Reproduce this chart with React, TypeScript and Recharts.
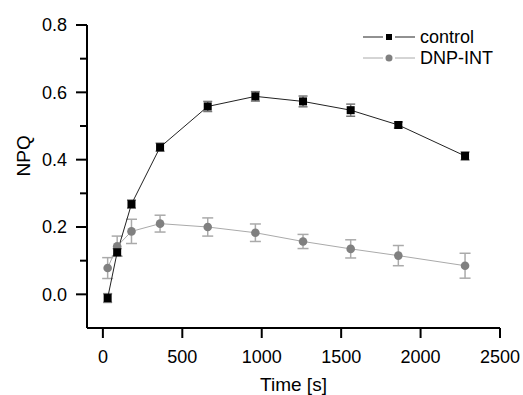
import { ErrorBar, Legend, Line, LineChart, XAxis, YAxis } from "recharts";

// NPQ time course, control vs DNP-INT, mean ± error
const times = [30, 90, 180, 360, 660, 960, 1260, 1560, 1860, 2280];
const controlNpq = [-0.011, 0.125, 0.268, 0.437, 0.558, 0.588, 0.573, 0.547, 0.503, 0.411];
const controlErr = [0.013, 0.011, 0.012, 0.012, 0.015, 0.014, 0.016, 0.018, 0.009, 0.012];
const dnpNpq = [0.078, 0.143, 0.187, 0.21, 0.2, 0.183, 0.157, 0.135, 0.115, 0.085];
const dnpErr = [0.031, 0.03, 0.036, 0.025, 0.027, 0.026, 0.021, 0.027, 0.03, 0.037];

const xTicks = [0, 500, 1000, 1500, 2000, 2500];
const yTicks = [0, 0.1, 0.2, 0.3, 0.4, 0.5, 0.6, 0.7, 0.8];

const FONT = "Arial, 'Liberation Sans', sans-serif";
const AXIS_X = 87; // y axis line position (margin.left + YAxis width)

const data = times.map((t, i) => ({
  time: t,
  control: controlNpq[i],
  controlErr: controlErr[i],
  dnp: dnpNpq[i],
  dnpErr: dnpErr[i],
}));

function YTick(props: any) {
  const { y, payload } = props;
  const v = payload.value as number;
  const major = Math.round(v * 10) % 2 === 0;
  const len = major ? 11 : 7;
  return (
    <g>
      <line x1={AXIS_X - len} x2={AXIS_X} y1={y} y2={y} stroke="#000" strokeWidth={2} />
      {major && (
        <text x={AXIS_X - 20} y={y} dy="0.36em" textAnchor="end" fontSize={18} fontFamily={FONT} fill="#000">
          {v.toFixed(1)}
        </text>
      )}
    </g>
  );
}

function LegendBox() {
  const rows = [
    { name: "control", line: "#222", kind: "square" },
    { name: "DNP-INT", line: "#aaa", kind: "circle" },
  ];
  return (
    <svg width={160} height={50}>
      {rows.map((r, i) => {
        const cy = 13 + i * 21;
        return (
          <g key={r.name}>
            <line x1={3} x2={23} y1={cy} y2={cy} stroke={r.line} strokeWidth={1} />
            <line x1={35} x2={55} y1={cy} y2={cy} stroke={r.line} strokeWidth={1} />
            {r.kind === "square" ? (
              <rect x={26} y={cy - 3} width={6} height={6} fill="#000" />
            ) : (
              <circle cx={29} cy={cy} r={3.5} fill="#808080" />
            )}
            <text x={60} y={cy} dy="0.36em" fontSize={18} fontFamily={FONT} fill="#000">
              {r.name}
            </text>
          </g>
        );
      })}
    </svg>
  );
}

export default function App() {
  return (
    <div style={{ position: "absolute", left: 0, top: 0, background: "#fff" }}>
      <LineChart width={523} height={395} data={data} margin={{ top: 25, right: 23, bottom: 0, left: 0 }}>
        <XAxis
          dataKey="time"
          type="number"
          domain={[-100, 2500]}
          ticks={xTicks}
          height={67}
          tickSize={10}
          tickMargin={12}
          axisLine={{ stroke: "#000", strokeWidth: 2 }}
          tickLine={{ stroke: "#000", strokeWidth: 2 }}
          tick={{ fontSize: 18, fontFamily: FONT, fill: "#000" }}
          label={{
            value: "Time [s]",
            position: "insideBottom",
            offset: 4,
            fontSize: 19,
            fontFamily: FONT,
            fill: "#000",
          }}
        />
        <YAxis
          type="number"
          domain={[-0.1, 0.8]}
          ticks={yTicks}
          width={87}
          axisLine={{ stroke: "#000", strokeWidth: 2 }}
          tickLine={false}
          tick={<YTick />}
          interval={0}
          label={{
            value: "NPQ",
            angle: -90,
            position: "insideLeft",
            offset: 23,
            fontSize: 19,
            fontFamily: FONT,
            fill: "#000",
          }}
        />
        <Legend
          layout="horizontal"
          verticalAlign="middle"
          align="center"
          content={() => <LegendBox />}
          wrapperStyle={{ position: "absolute", left: 360, top: 24, width: 160 }}
        />
        <Line
          dataKey="dnp"
          name="DNP-INT"
          stroke="#aaa"
          strokeWidth={1}
          isAnimationActive={false}
          dot={(p: any) => <circle key={`d${p.index}`} cx={p.cx} cy={p.cy} r={4.3} fill="#808080" />}
          activeDot={false}
        >
          <ErrorBar dataKey="dnpErr" direction="y" width={5.5} stroke="#aaa" strokeWidth={1.5} />
        </Line>
        <Line
          dataKey="control"
          name="control"
          stroke="#222"
          strokeWidth={1}
          isAnimationActive={false}
          dot={(p: any) => (
            <rect key={`c${p.index}`} x={p.cx - 4} y={p.cy - 4} width={8} height={8} fill="#000" />
          )}
          activeDot={false}
        >
          <ErrorBar dataKey="controlErr" direction="y" width={4.5} stroke="#777" strokeWidth={1.5} />
        </Line>
      </LineChart>
    </div>
  );
}
